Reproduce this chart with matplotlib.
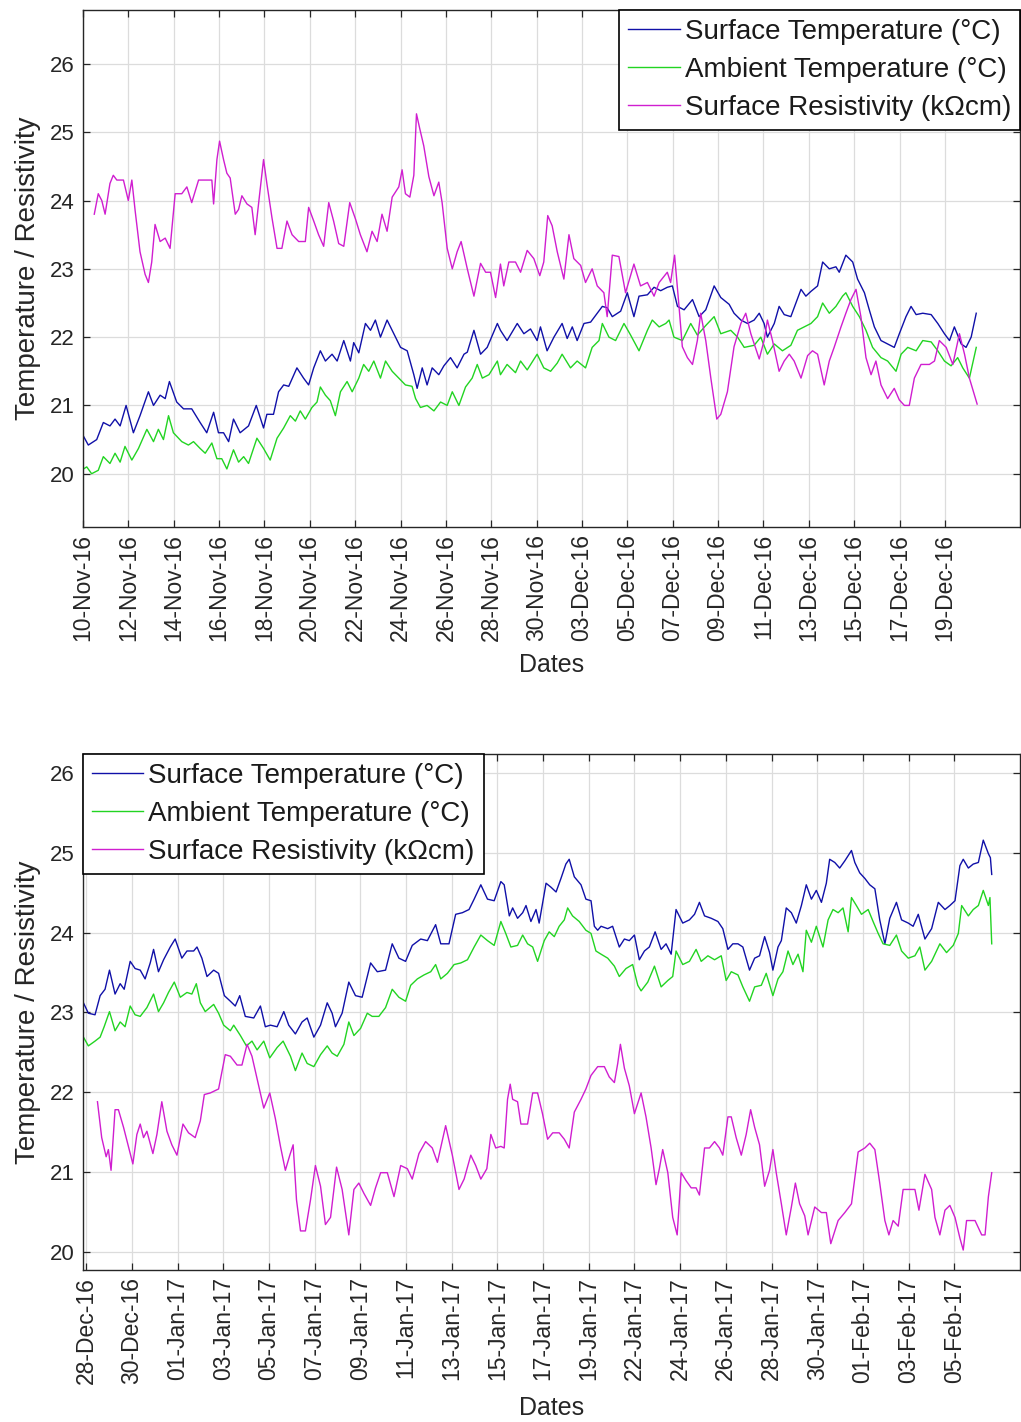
import numpy as np
import matplotlib
matplotlib.use('Agg')
import matplotlib.pyplot as plt

plt.rcParams['font.family'] = ['Liberation Sans', 'DejaVu Sans']

# Days since the first tick, paired with the reading at that moment
# Panel 1: 10-Nov-16 .. 20-Dec-16
nov_surface = [
    (0.02, 20.55), (0.24, 20.42), (0.62, 20.5), (0.92, 20.75), (1.22, 20.7), (1.45, 20.8), (1.68, 20.7),
    (1.95, 21.0), (2.28, 20.6), (2.58, 20.85), (2.96, 21.2), (3.19, 21.0), (3.49, 21.15), (3.72, 21.1),
    (3.91, 21.35), (4.24, 21.05), (4.55, 20.95), (4.92, 20.95), (5.30, 20.75), (5.60, 20.6), (5.91, 20.9),
    (6.13, 20.6), (6.36, 20.6), (6.59, 20.47), (6.81, 20.8), (7.11, 20.6), (7.49, 20.7), (7.84, 21.0),
    (8.17, 20.67), (8.32, 20.87), (8.62, 20.87), (8.85, 21.2), (9.08, 21.3), (9.31, 21.28), (9.68, 21.55),
    (9.98, 21.4), (10.21, 21.3), (10.44, 21.55), (10.74, 21.8), (10.97, 21.65), (11.27, 21.75), (11.50, 21.65),
    (11.80, 21.95), (12.10, 21.65), (12.25, 21.92), (12.48, 21.77), (12.78, 22.2), (13.01, 22.1), (13.23, 22.25),
    (13.46, 22.0), (13.76, 22.25), (14.14, 22.0), (14.37, 21.85), (14.67, 21.8), (14.97, 21.45), (15.12, 21.25),
    (15.35, 21.55), (15.57, 21.3), (15.80, 21.55), (16.10, 21.45), (16.33, 21.58), (16.63, 21.7), (16.93, 21.55),
    (17.24, 21.75), (17.39, 21.78), (17.69, 22.1), (17.99, 21.75), (18.29, 21.85), (18.75, 22.2),
    (18.89, 22.1), (19.19, 21.95), (19.65, 22.2), (19.95, 22.05), (20.25, 22.12), (20.55, 21.95), (20.70, 22.15),
    (21.00, 21.8), (21.31, 22.0), (21.68, 22.2), (21.91, 21.98), (22.14, 22.15), (22.36, 21.95), (22.67, 22.2),
    (22.97, 22.22), (23.27, 22.35), (23.50, 22.45), (23.72, 22.43), (23.95, 22.3), (24.33, 22.38), (24.63, 22.65),
    (24.93, 22.3), (25.16, 22.6), (25.54, 22.62), (25.84, 22.73), (26.14, 22.68), (26.44, 22.73), (26.67, 22.75),
    (26.90, 22.45), (27.20, 22.4), (27.58, 22.55), (27.88, 22.3), (28.18, 22.4), (28.56, 22.75), (28.86, 22.58),
    (29.24, 22.48), (29.46, 22.35), (29.77, 22.25), (30.07, 22.2), (30.37, 22.25), (30.60, 22.35), (30.82, 22.2),
    (30.97, 22.0), (31.28, 22.2), (31.50, 22.45), (31.73, 22.33), (32.03, 22.3), (32.49, 22.7), (32.71, 22.6),
    (32.94, 22.67), (33.24, 22.75), (33.47, 23.1), (33.77, 23.0), (34.07, 23.03), (34.22, 22.95), (34.52, 23.2),
    (34.83, 23.1), (35.05, 22.85), (35.36, 22.65), (35.58, 22.4), (35.81, 22.15), (36.11, 21.95), (36.41, 21.9),
    (36.71, 21.85), (36.94, 22.05), (37.24, 22.3), (37.47, 22.45), (37.70, 22.33), (38.00, 22.35), (38.38, 22.33),
    (38.68, 22.2), (38.98, 22.05), (39.21, 21.95), (39.43, 22.15), (39.74, 21.9), (39.96, 21.85), (40.19, 22.0),
    (40.42, 22.35),
]
nov_ambient = [
    (0.02, 20.07), (0.17, 20.1), (0.39, 20.0), (0.69, 20.05), (0.92, 20.25), (1.22, 20.15), (1.45, 20.3),
    (1.68, 20.17), (1.90, 20.4), (2.21, 20.2), (2.51, 20.37), (2.89, 20.65), (3.19, 20.47), (3.41, 20.65),
    (3.64, 20.5), (3.87, 20.85), (4.09, 20.6), (4.47, 20.47), (4.77, 20.42), (5.00, 20.47), (5.30, 20.37),
    (5.53, 20.3), (5.83, 20.45), (6.06, 20.22), (6.28, 20.22), (6.51, 20.07), (6.81, 20.35), (7.04, 20.17),
    (7.27, 20.25), (7.49, 20.15), (7.87, 20.52), (8.17, 20.37), (8.47, 20.2), (8.78, 20.52), (9.08, 20.67),
    (9.38, 20.85), (9.61, 20.77), (9.83, 20.92), (10.06, 20.8), (10.36, 20.97), (10.59, 21.05), (10.74, 21.27),
    (10.97, 21.15), (11.19, 21.07), (11.42, 20.85), (11.65, 21.2), (11.95, 21.35), (12.18, 21.2), (12.48, 21.4),
    (12.70, 21.6), (12.93, 21.5), (13.16, 21.65), (13.46, 21.4), (13.69, 21.65), (13.99, 21.5), (14.29, 21.4),
    (14.59, 21.3), (14.89, 21.28), (15.05, 21.1), (15.27, 20.97), (15.57, 21.0), (15.88, 20.92), (16.18, 21.05),
    (16.48, 21.0), (16.71, 21.2), (17.01, 21.0), (17.31, 21.27), (17.61, 21.4), (17.84, 21.6), (18.07, 21.4),
    (18.37, 21.45), (18.75, 21.65),
    (18.89, 21.45), (19.19, 21.6), (19.57, 21.48), (19.80, 21.65), (20.10, 21.52), (20.55, 21.75), (20.85, 21.55),
    (21.16, 21.5), (21.46, 21.62), (21.68, 21.75), (22.06, 21.55), (22.36, 21.65), (22.74, 21.55), (23.04, 21.85),
    (23.35, 21.95), (23.50, 22.2), (23.80, 22.0), (24.10, 21.95), (24.48, 22.2), (24.78, 22.03), (25.16, 21.8),
    (25.54, 22.1), (25.76, 22.25), (26.07, 22.15), (26.37, 22.2), (26.52, 22.25), (26.74, 22.0), (27.12, 21.95),
    (27.50, 22.2), (27.80, 22.03), (28.18, 22.17), (28.56, 22.3), (28.86, 22.05), (29.31, 22.1), (29.62, 22.0),
    (29.92, 21.85), (30.37, 21.88), (30.67, 22.0), (30.97, 21.75), (31.28, 21.9), (31.65, 21.8), (32.03, 21.88),
    (32.33, 22.1), (32.64, 22.15), (32.94, 22.2), (33.24, 22.3), (33.47, 22.5), (33.77, 22.35), (34.07, 22.45),
    (34.37, 22.6), (34.52, 22.65), (34.83, 22.45), (35.13, 22.3), (35.43, 22.1), (35.73, 21.85), (36.11, 21.7),
    (36.41, 21.65), (36.79, 21.5), (37.02, 21.75), (37.32, 21.85), (37.70, 21.8), (38.00, 21.95), (38.38, 21.93),
    (38.68, 21.8), (38.98, 21.65), (39.28, 21.58), (39.58, 21.7), (39.81, 21.55), (40.11, 21.4), (40.42, 21.85),
]
nov_resist = [
    (0.51, 23.8), (0.69, 24.1), (0.85, 24.0), (1.00, 23.8), (1.22, 24.25), (1.37, 24.37), (1.53, 24.3),
    (1.83, 24.3), (2.05, 24.0), (2.21, 24.3), (2.36, 23.85), (2.58, 23.25), (2.81, 22.92), (2.96, 22.8),
    (3.11, 23.1), (3.26, 23.65), (3.49, 23.4), (3.72, 23.45), (3.94, 23.3), (4.17, 24.1), (4.47, 24.1),
    (4.70, 24.2), (4.92, 23.97), (5.23, 24.3), (5.60, 24.3), (5.83, 24.3), (5.91, 23.95), (6.06, 24.6),
    (6.18, 24.87), (6.36, 24.6), (6.51, 24.4), (6.66, 24.33), (6.89, 23.8), (7.04, 23.87), (7.19, 24.07),
    (7.42, 23.95), (7.64, 23.9), (7.79, 23.5), (7.95, 23.97), (8.17, 24.6), (8.32, 24.25), (8.55, 23.75),
    (8.78, 23.3), (9.00, 23.3), (9.23, 23.7), (9.46, 23.5), (9.76, 23.4), (10.06, 23.4), (10.21, 23.9),
    (10.44, 23.7), (10.66, 23.5), (10.89, 23.33), (11.12, 23.97), (11.34, 23.7), (11.57, 23.37), (11.80, 23.33),
    (12.07, 23.97), (12.33, 23.73), (12.55, 23.5), (12.85, 23.25), (13.08, 23.55), (13.31, 23.4), (13.53, 23.8),
    (13.76, 23.55), (13.99, 24.05), (14.29, 24.2), (14.44, 24.45), (14.59, 24.1), (14.79, 24.05), (14.97, 24.37),
    (15.09, 25.27), (15.24, 25.05), (15.42, 24.8), (15.65, 24.35), (15.88, 24.07), (16.10, 24.27), (16.25, 23.97),
    (16.48, 23.3), (16.71, 23.0), (16.93, 23.25), (17.11, 23.4), (17.39, 23.0), (17.69, 22.6), (17.99, 23.08),
    (18.22, 22.95), (18.44, 22.95), (18.67, 22.58),
    (18.89, 23.07), (19.04, 22.75), (19.27, 23.1), (19.57, 23.1), (19.80, 22.95), (20.10, 23.27), (20.40, 23.15),
    (20.67, 22.9), (20.85, 23.1), (21.03, 23.78), (21.23, 23.63), (21.46, 23.25), (21.76, 22.85), (21.99, 23.5),
    (22.21, 23.15), (22.52, 23.05), (22.74, 22.8), (23.04, 23.0), (23.27, 22.75), (23.57, 22.65), (23.72, 22.3),
    (23.95, 23.2), (24.25, 23.18), (24.55, 22.65), (24.93, 23.07), (25.23, 22.75), (25.54, 22.8), (25.84, 22.6),
    (26.07, 22.8), (26.44, 22.95), (26.59, 22.8), (26.77, 23.2), (26.97, 22.45), (27.12, 21.86), (27.35, 21.7),
    (27.58, 21.6), (27.80, 21.95), (27.95, 22.35), (28.18, 21.95), (28.41, 21.4), (28.68, 20.8), (28.86, 20.87),
    (29.16, 21.2), (29.46, 21.86), (29.77, 22.2), (29.99, 22.35), (30.22, 22.05), (30.60, 21.68), (30.82, 21.95),
    (30.97, 22.25), (31.20, 21.95), (31.50, 21.5), (31.73, 21.65), (31.96, 21.75), (32.18, 21.65), (32.49, 21.4),
    (32.79, 21.73), (33.01, 21.8), (33.24, 21.75), (33.54, 21.3), (33.77, 21.65), (33.99, 21.85), (34.30, 22.15),
    (34.52, 22.35), (34.75, 22.55), (34.98, 22.7), (35.20, 22.3), (35.43, 21.7), (35.66, 21.45), (35.88, 21.65),
    (36.11, 21.3), (36.41, 21.1), (36.71, 21.25), (36.94, 21.08), (37.17, 21.0), (37.39, 21.0), (37.62, 21.4),
    (37.92, 21.6), (38.30, 21.6), (38.53, 21.65), (38.75, 21.95), (39.06, 21.85), (39.36, 21.6), (39.66, 22.05),
    (39.89, 21.75), (40.11, 21.4), (40.46, 21.02),
]

# Panel 2: 28-Dec-16 .. 06-Feb-17
jan_surface = [
    (-0.12, 23.12), (0.10, 22.99), (0.40, 22.97), (0.63, 23.21), (0.85, 23.29), (1.05, 23.53), (1.30, 23.23),
    (1.53, 23.36), (1.71, 23.29), (1.98, 23.64), (2.20, 23.55), (2.43, 23.53), (2.65, 23.42), (2.88, 23.62),
    (3.03, 23.79), (3.25, 23.51), (3.48, 23.66), (3.78, 23.82), (4.00, 23.92), (4.30, 23.68), (4.53, 23.77),
    (4.83, 23.77), (4.98, 23.82), (5.20, 23.68), (5.43, 23.45), (5.73, 23.53), (5.95, 23.49), (6.21, 23.21),
    (6.48, 23.14), (6.70, 23.08), (6.90, 23.21), (7.15, 22.95), (7.53, 22.93), (7.83, 23.08), (8.05, 22.82),
    (8.28, 22.84), (8.58, 22.82), (8.88, 23.01), (9.10, 22.84), (9.40, 22.73), (9.70, 22.88), (9.93, 22.93),
    (10.23, 22.69), (10.53, 22.84), (10.83, 23.12), (11.05, 22.99), (11.20, 22.82), (11.50, 22.99), (11.80, 23.38),
    (12.10, 23.21), (12.40, 23.19), (12.78, 23.62), (13.08, 23.51), (13.45, 23.53), (13.75, 23.86), (14.05, 23.68),
    (14.35, 23.64), (14.65, 23.84), (15.03, 23.92), (15.33, 23.90), (15.70, 24.10), (15.93, 23.86), (16.30, 23.86),
    (16.60, 24.23), (16.90, 24.25), (17.20, 24.29), (17.43, 24.42), (17.73, 24.60), (18.03, 24.42), (18.33, 24.40),
    (18.63, 24.64), (18.78, 24.60), (19.01, 24.21), (19.16, 24.31), (19.38, 24.18), (19.61, 24.25), (19.76, 24.34),
    (19.98, 24.14), (20.21, 24.29), (20.35, 24.12), (20.66, 24.62), (20.88, 24.57), (21.11, 24.51), (21.33, 24.68),
    (21.55, 24.86), (21.70, 24.92), (21.93, 24.70), (22.23, 24.60), (22.45, 24.42), (22.68, 24.40), (22.83, 24.08),
    (22.98, 24.03), (23.13, 24.08), (23.43, 24.05), (23.65, 24.08), (23.95, 23.82), (24.18, 23.92), (24.40, 23.90),
    (24.63, 23.97), (24.85, 23.66), (25.08, 23.77), (25.30, 23.82), (25.56, 24.01), (25.83, 23.79), (26.05, 23.86),
    (26.28, 23.73), (26.50, 24.29), (26.80, 24.12), (27.10, 24.16), (27.33, 24.23), (27.55, 24.38), (27.78, 24.21),
    (28.08, 24.18), (28.38, 24.14), (28.60, 24.05), (28.83, 23.79), (29.05, 23.86), (29.28, 23.86), (29.50, 23.82),
    (29.80, 23.53), (30.03, 23.68), (30.25, 23.71), (30.48, 23.95), (30.70, 23.75), (30.85, 23.53), (31.08, 23.82),
    (31.23, 23.90), (31.45, 24.31), (31.68, 24.25), (31.90, 24.12), (32.13, 24.34), (32.35, 24.60), (32.58, 24.42),
    (32.80, 24.53), (33.03, 24.38), (33.25, 24.62), (33.40, 24.92), (33.63, 24.88), (33.85, 24.81), (34.08, 24.90),
    (34.38, 25.03), (34.53, 24.88), (34.75, 24.75), (34.98, 24.68), (35.20, 24.60), (35.43, 24.55), (35.65, 24.16),
    (35.88, 23.86), (36.10, 24.18), (36.40, 24.38), (36.63, 24.16), (36.93, 24.12), (37.15, 24.08), (37.38, 24.23),
    (37.68, 23.92), (37.98, 24.05), (38.28, 24.38), (38.58, 24.29), (38.80, 24.34), (39.03, 24.40), (39.25, 24.84),
    (39.40, 24.92), (39.63, 24.81), (39.85, 24.86), (40.08, 24.88), (40.30, 25.16), (40.53, 24.99), (40.62, 24.94),
    (40.68, 24.73),
]
jan_ambient = [
    (-0.12, 22.69), (0.10, 22.58), (0.40, 22.64), (0.63, 22.69), (0.81, 22.82), (1.05, 23.01), (1.30, 22.77),
    (1.53, 22.88), (1.75, 22.82), (1.98, 23.08), (2.20, 22.97), (2.43, 22.95), (2.73, 23.06), (3.03, 23.23),
    (3.25, 23.01), (3.48, 23.12), (3.70, 23.25), (3.96, 23.38), (4.23, 23.19), (4.53, 23.25), (4.75, 23.23),
    (4.95, 23.36), (5.13, 23.12), (5.35, 23.01), (5.73, 23.10), (5.95, 22.99), (6.18, 22.84), (6.48, 22.77),
    (6.63, 22.84), (6.93, 22.71), (7.20, 22.58), (7.45, 22.64), (7.68, 22.53), (7.98, 22.64), (8.25, 22.43),
    (8.58, 22.56), (8.85, 22.64), (9.18, 22.45), (9.40, 22.27), (9.70, 22.49), (9.93, 22.36), (10.23, 22.32),
    (10.53, 22.47), (10.83, 22.58), (11.05, 22.49), (11.28, 22.45), (11.58, 22.60), (11.80, 22.88), (12.03, 22.71),
    (12.33, 22.80), (12.63, 22.99), (12.85, 22.95), (13.15, 22.95), (13.45, 23.06), (13.75, 23.29), (14.05, 23.19),
    (14.35, 23.14), (14.58, 23.34), (14.88, 23.42), (15.18, 23.47), (15.48, 23.51), (15.70, 23.60), (15.93, 23.42),
    (16.23, 23.49), (16.53, 23.60), (16.83, 23.62), (17.13, 23.66), (17.43, 23.82), (17.73, 23.97), (18.03, 23.90),
    (18.33, 23.84),
    (18.63, 24.14), (18.85, 23.99), (19.08, 23.82), (19.38, 23.84), (19.61, 23.97), (19.83, 23.86), (20.06, 23.82),
    (20.28, 23.64), (20.58, 23.90), (20.80, 24.01), (21.03, 23.95), (21.25, 24.08), (21.48, 24.16), (21.63, 24.31),
    (21.85, 24.21), (22.15, 24.14), (22.45, 24.03), (22.68, 23.99), (22.90, 23.77), (23.13, 23.73), (23.43, 23.68),
    (23.73, 23.58), (23.95, 23.45), (24.25, 23.55), (24.55, 23.60), (24.78, 23.34), (24.93, 23.27), (25.23, 23.38),
    (25.53, 23.58), (25.83, 23.32), (26.13, 23.40), (26.35, 23.45), (26.50, 23.77), (26.80, 23.60), (27.10, 23.64),
    (27.40, 23.79), (27.63, 23.64), (27.93, 23.71), (28.23, 23.66), (28.53, 23.71), (28.75, 23.40), (28.98, 23.51),
    (29.28, 23.47), (29.50, 23.32), (29.80, 23.14), (30.03, 23.32), (30.33, 23.34), (30.55, 23.49), (30.85, 23.21),
    (31.08, 23.42), (31.30, 23.51), (31.53, 23.77), (31.75, 23.60), (31.98, 23.73), (32.20, 23.51), (32.35, 24.03),
    (32.58, 23.88), (32.80, 24.08), (33.10, 23.82), (33.33, 24.16), (33.55, 24.29), (33.78, 24.25), (34.00, 24.31),
    (34.23, 24.01), (34.38, 24.44), (34.60, 24.34), (34.83, 24.23), (35.13, 24.29), (35.35, 24.14), (35.58, 23.99),
    (35.80, 23.86), (36.10, 23.84), (36.40, 23.97), (36.63, 23.77), (36.93, 23.68), (37.23, 23.71), (37.45, 23.82),
    (37.68, 23.53), (37.98, 23.64), (38.35, 23.86), (38.65, 23.75), (38.95, 23.84), (39.18, 23.99), (39.33, 24.34),
    (39.63, 24.21), (39.85, 24.29), (40.08, 24.34), (40.30, 24.53), (40.53, 24.34), (40.60, 24.44), (40.68, 23.86),
]
jan_resist = [
    (0.51, 21.88), (0.70, 21.43), (0.90, 21.19), (1.00, 21.28), (1.12, 21.02), (1.30, 21.78), (1.45, 21.78),
    (1.68, 21.56), (1.90, 21.32), (2.10, 21.10), (2.28, 21.47), (2.43, 21.60), (2.58, 21.43), (2.73, 21.51),
    (3.00, 21.23), (3.18, 21.47), (3.40, 21.88), (3.63, 21.51), (3.85, 21.34), (4.08, 21.21), (4.35, 21.60),
    (4.60, 21.49), (4.90, 21.43), (5.13, 21.64), (5.31, 21.97), (5.58, 21.99), (5.95, 22.04), (6.25, 22.47),
    (6.48, 22.45), (6.78, 22.34), (7.00, 22.34), (7.23, 22.60), (7.45, 22.45), (7.75, 22.08), (7.98, 21.80),
    (8.25, 21.99), (8.50, 21.67), (8.73, 21.32), (8.95, 21.02), (9.15, 21.21), (9.30, 21.34), (9.45, 20.65),
    (9.63, 20.26), (9.85, 20.26), (10.08, 20.65), (10.30, 21.08), (10.53, 20.82), (10.75, 20.34), (10.98, 20.43),
    (11.25, 21.06), (11.50, 20.78), (11.80, 20.21), (12.03, 20.78), (12.25, 20.86), (12.48, 20.73), (12.78, 20.58),
    (13.00, 20.80), (13.23, 20.99), (13.53, 20.99), (13.83, 20.69), (14.13, 21.08), (14.43, 21.04), (14.65, 20.91),
    (14.95, 21.23), (15.25, 21.38), (15.55, 21.30), (15.78, 21.12), (16.15, 21.58), (16.45, 21.21), (16.75, 20.78),
    (16.98, 20.91), (17.28, 21.21), (17.50, 21.08), (17.73, 20.91), (18.00, 21.04), (18.18, 21.47), (18.40, 21.30),
    (18.63, 21.32), (18.78, 21.30), (18.93, 21.91), (19.05, 22.10), (19.16, 21.91), (19.38, 21.88), (19.53, 21.60),
    (19.83, 21.60), (20.06, 21.99), (20.28, 21.99), (20.50, 21.73), (20.73, 21.41), (20.96, 21.49), (21.25, 21.49),
    (21.48, 21.41), (21.70, 21.30), (21.93, 21.75), (22.23, 21.91), (22.45, 22.04), (22.68, 22.21), (22.98, 22.32),
    (23.28, 22.32), (23.50, 22.19), (23.73, 22.12), (23.88, 22.36), (24.00, 22.60), (24.18, 22.30), (24.40, 22.08),
    (24.63, 21.73), (24.93, 21.99), (25.15, 21.69), (25.38, 21.30), (25.60, 20.84), (25.75, 21.04), (25.90, 21.28),
    (26.13, 20.99), (26.35, 20.43), (26.55, 20.21), (26.73, 20.99), (26.95, 20.89), (27.18, 20.80), (27.40, 20.80),
    (27.55, 20.71), (27.78, 21.30), (28.00, 21.30), (28.23, 21.38), (28.45, 21.30), (28.60, 21.21), (28.83, 21.69),
    (28.98, 21.69), (29.20, 21.43), (29.43, 21.21), (29.65, 21.47), (29.85, 21.78), (30.03, 21.56), (30.25, 21.34),
    (30.48, 20.82), (30.70, 21.02), (30.85, 21.28), (31.00, 20.99), (31.23, 20.60), (31.45, 20.21), (31.68, 20.56),
    (31.86, 20.86), (32.05, 20.60), (32.28, 20.45), (32.43, 20.21), (32.73, 20.56), (33.03, 20.49), (33.25, 20.49),
    (33.45, 20.10), (33.63, 20.26), (33.78, 20.39), (34.08, 20.49), (34.38, 20.60), (34.68, 21.25), (34.98, 21.30),
    (35.20, 21.36), (35.43, 21.28), (35.65, 20.86), (35.88, 20.39), (36.06, 20.21), (36.25, 20.39), (36.48, 20.32),
    (36.70, 20.78), (37.00, 20.78), (37.23, 20.78), (37.41, 20.52), (37.68, 20.97), (37.98, 20.78), (38.13, 20.43),
    (38.35, 20.21), (38.58, 20.52), (38.80, 20.58), (39.03, 20.43), (39.25, 20.17), (39.40, 20.02), (39.55, 20.39),
    (39.93, 20.39), (40.23, 20.21), (40.38, 20.21), (40.53, 20.69), (40.68, 20.99),
]

nov_labels = ['10-Nov-16', '12-Nov-16', '14-Nov-16', '16-Nov-16', '18-Nov-16', '20-Nov-16', '22-Nov-16',
              '24-Nov-16', '26-Nov-16', '28-Nov-16', '30-Nov-16', '03-Dec-16', '05-Dec-16', '07-Dec-16',
              '09-Dec-16', '11-Dec-16', '13-Dec-16', '15-Dec-16', '17-Dec-16', '19-Dec-16']
jan_labels = ['28-Dec-16', '30-Dec-16', '01-Jan-17', '03-Jan-17', '05-Jan-17', '07-Jan-17', '09-Jan-17',
              '11-Jan-17', '13-Jan-17', '15-Jan-17', '17-Jan-17', '19-Jan-17', '22-Jan-17', '24-Jan-17',
              '26-Jan-17', '28-Jan-17', '30-Jan-17', '01-Feb-17', '03-Feb-17', '05-Feb-17']

names = ['Surface Temperature (°C)', 'Ambient Temperature (°C)', 'Surface Resistivity (kΩcm)']
colors = ['#1010a8', '#22d422', '#d01ed0']
tick_step = 39 / 19      # datetick spacing in days
dark = '#262626'


def panel(ax, series, labels, xlim, ylim, loc):
    for data, c, name in zip(series, colors, names):
        t, v = zip(*data)
        ax.plot(t, v, color=c, lw=1.0, label=name)
    ax.set_xticks(np.arange(len(labels)) * tick_step)
    ax.set_xticklabels(labels, rotation=90)
    ax.set_yticks(range(20, 27))
    ax.set_xlim(*xlim)
    ax.set_ylim(*ylim)
    ax.grid(True, color='#dcdcdc', lw=0.9)
    ax.set_axisbelow(True)
    ax.tick_params(axis='x', direction='in', top=True, length=5, width=0.9, pad=5,
                   labelsize=16.5, colors=dark)
    ax.tick_params(axis='y', direction='in', right=True, length=5, width=0.9, pad=6,
                   labelsize=16, colors=dark)
    for s in ax.spines.values():
        s.set_color(dark)
        s.set_linewidth(1.0)
    ax.set_xlabel('Dates', fontsize=18, color=dark, labelpad=9)
    ax.set_ylabel('Temperature / Resistivity', fontsize=20, color=dark, labelpad=6)
    leg = ax.legend(loc=loc, fontsize=20, borderaxespad=0, fancybox=False, framealpha=1,
                    handlelength=1.85, handletextpad=0.18, labelspacing=0.43, borderpad=0.32)
    leg.get_frame().set_edgecolor('black')
    leg.get_frame().set_linewidth(1.2)
    for txt in leg.get_texts():
        txt.set_color('#1a1a1a')


fig = plt.figure(figsize=(10.21, 14.22), dpi=100)
ax_top = fig.add_axes([83 / 1021, 1 - 527 / 1422, 937 / 1021, 517 / 1422])
ax_bot = fig.add_axes([83 / 1021, 1 - 1270 / 1422, 937 / 1021, 516 / 1422])

panel(ax_top, [nov_surface, nov_ambient, nov_resist], nov_labels, (0, 42.4), (19.22, 26.79), 'upper right')
panel(ax_bot, [jan_surface, jan_ambient, jan_resist], jan_labels, (-0.14, 41.95), (19.77, 26.24), 'upper left')

fig.savefig('out.png', dpi=100)
